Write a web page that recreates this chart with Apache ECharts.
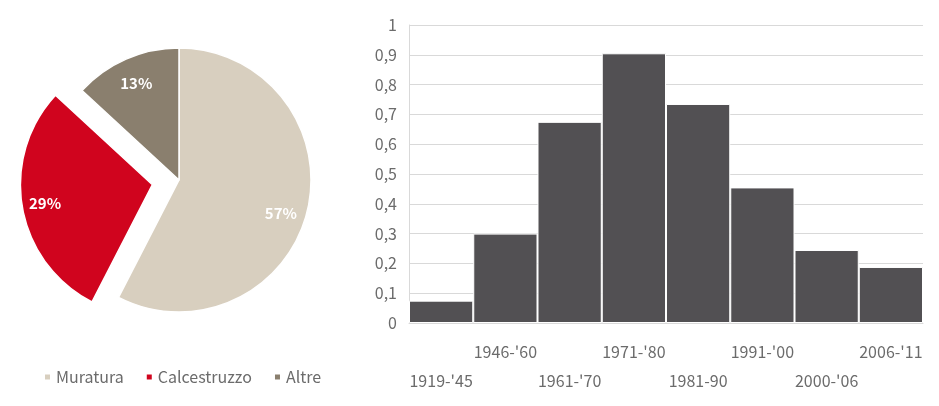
<!DOCTYPE html>
<html>
<head>
<meta charset="utf-8">
<script src="https://cdn.jsdelivr.net/npm/echarts@6/dist/echarts.min.js"></script>
<style>
html,body{margin:0;padding:0;background:#fff;}
#chart{width:939px;height:406px;}
</style>
</head>
<body>
<div id="chart"></div>
<script>
const pieNames = ['Muratura', 'Calcestruzzo', 'Altre'];
const pieValues = [57, 29, 13];
const pieColors = ['#D8CFBF', '#D0041E', '#8A7F6E'];

const periods = ["1919-'45", "1946-'60", "1961-'70", "1971-'80", "1981-90", "1991-'00", "2000-'06", "2006-'11"];
const barValues = [0.075, 0.30, 0.675, 0.905, 0.735, 0.455, 0.245, 0.188];

const FONT = '"Noto Sans CJK JP", "Noto Sans", sans-serif';
const TXT = '#6b6b6b';
const labelNudges = [[-4, 8], [3, 6], [1, 3]];

const chart = echarts.init(document.getElementById('chart'), null, {renderer: 'canvas'});

const pieData = pieNames.map((n, i) => ({
  name: n,
  value: pieValues[i],
  selected: n === 'Calcestruzzo',
  itemStyle: {color: pieColors[i]}
}));
const labelData = pieNames.map((n, i) => ({
  name: n,
  value: pieValues[i],
  selected: n === 'Calcestruzzo',
  itemStyle: {color: 'rgba(0,0,0,0)'},
  label: {offset: labelNudges[i]}
}));

chart.setOption({
  animation: false,
  textStyle: {fontFamily: FONT},
  legend: {
    data: pieNames,
    left: 38,
    top: 364,
    itemWidth: 7,
    itemHeight: 7,
    itemGap: 21,
    icon: 'rect',
    selectedMode: false,
    textStyle: {fontFamily: FONT, fontSize: 16, color: TXT}
  },
  grid: {left: 409, right: 16, top: 25, bottom: 83, containLabel: false},
  xAxis: {
    type: 'category',
    data: periods,
    axisLine: {show: true, lineStyle: {color: '#d9d9d9', width: 1}},
    axisTick: {show: false},
    axisLabel: {
      interval: 0,
      margin: 14,
      color: TXT,
      fontSize: 16,
      fontFamily: FONT,
      lineHeight: 29,
      formatter: function (v, i) { return i % 2 === 0 ? '\n' + v : v; }
    }
  },
  yAxis: {
    type: 'value',
    min: 0,
    max: 1,
    interval: 0.1,
    axisLine: {show: true, lineStyle: {color: '#d9d9d9', width: 1}},
    axisTick: {show: false},
    splitLine: {lineStyle: {color: '#d9d9d9', width: 1}},
    axisLabel: {
      margin: 12,
      color: TXT,
      fontSize: 16,
      fontFamily: FONT,
      formatter: function (v) { return String(Math.round(v * 10) / 10).replace('.', ','); }
    }
  },
  series: [
    {
      type: 'bar',
      data: barValues,
      barCategoryGap: 0,
      itemStyle: {color: '#525053', borderColor: '#ffffff', borderWidth: 1},
      silent: true
    },
    {
      type: 'pie',
      name: 'pie',
      center: [179, 180],
      radius: [0, 132],
      startAngle: 90,
      clockwise: true,
      selectedMode: 'single',
      selectedOffset: 27,
      avoidLabelOverlap: false,
      label: {show: false},
      labelLine: {show: false},
      emphasis: {disabled: true},
      itemStyle: {borderColor: '#ffffff', borderWidth: 1.5},
      data: pieData
    },
    {
      type: 'pie',
      name: 'labels',
      center: [179, 180],
      radius: [80, 132],
      startAngle: 90,
      clockwise: true,
      selectedMode: 'single',
      selectedOffset: 27,
      silent: true,
      avoidLabelOverlap: false,
      labelLine: {show: false},
      label: {
        show: true,
        position: 'inner',
        color: '#ffffff',
        fontSize: 15,
        fontWeight: 'bold',
        fontFamily: FONT,
        formatter: function (p) { return p.value + '%'; }
      },
      emphasis: {disabled: true},
      data: labelData
    }
  ]
});
</script>
</body>
</html>
